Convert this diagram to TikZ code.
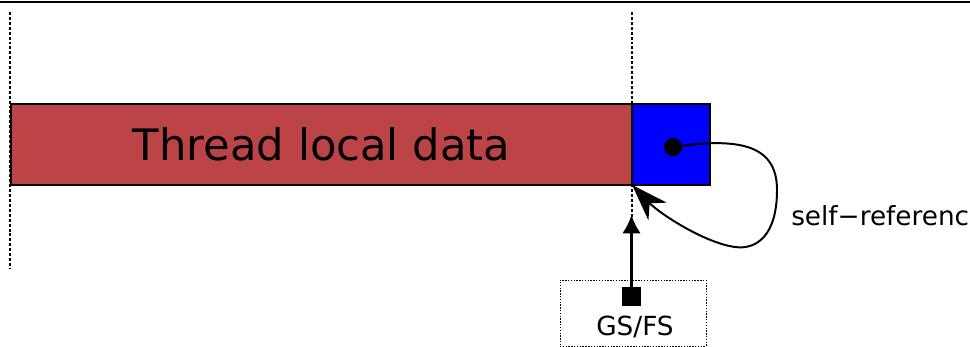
\documentclass[tikz,border=0pt]{standalone}
\usepackage{fontspec}
\setmainfont{DejaVu Sans}
\usetikzlibrary{arrows.meta, positioning}

\definecolor{tlsred}{HTML}{BC4446}

\begin{document}
\begin{tikzpicture}[
  x=0.025cm, y=-0.025cm,
  block/.style={draw, line width=1.8pt, inner sep=0pt, outer sep=0pt, minimum height=2.025cm},
  guide/.style={line width=1.2pt, dash pattern=on 2.1pt off 1.4pt},
  regbox/.style={draw, line width=0.5pt, dash pattern=on 1pt off 1pt, minimum width=3.65cm, minimum height=1.65cm, inner sep=0pt},
  selfref/.style={line width=1.4pt, -{Stealth[length=26pt, width=18pt, inset=8pt]}},
  lbl/.style={font=\fontsize{18.7}{22}\selectfont}
]
\useasboundingbox (0,0) rectangle (970,347);

% frame edge along the top
\draw[line width=1.6pt] (0,2) -- (970,2);

% segment bounds
\coordinate (lefttop) at (10,12);
\coordinate (leftbot) at (10,268);
\coordinate (tcbtop) at (632,12);
\coordinate (tcbbot) at (632,267);
\draw[guide] (lefttop) -- (leftbot);
\draw[guide] (tcbtop) -- (tcbbot);

% TLS block and thread control block
\node[block, fill=tlsred, minimum width=15.525cm, anchor=north west, font=\fontsize{30.8}{36}\selectfont] (tld) at (11,104) {Thread local data};
\node[block, fill=blue, minimum width=1.95cm, right=0pt of tld] (tcb) {};

% pointer back to itself
\node[circle, fill, inner sep=0pt, minimum size=12.8pt] (selfptr) at (673,147) {};
\draw[selfref] (selfptr.center) .. controls (745,136) and (777,148) .. (777,190)
  .. controls (777,235) and (757,250) .. (735,247)
  .. controls (705,243) and (660,214) .. (tcb.south west);
\node[lbl, inner sep=0pt, anchor=base west] (reflabel) at (791,225) {self−reference};

% segment register
\node[regbox] (segbox) at (633,313) {};
\node[fill, inner sep=0pt, minimum size=13.5pt] (gsreg) at (631.5,296.5) {};
\node[lbl] (gslabel) at (635,327) {GS/FS};
\coordinate (gstip) at (631.5,215);
\draw[line width=1.5pt, -{Latex[length=13pt, width=13pt]}] (gsreg.center) -- (gstip);
\end{tikzpicture}
\end{document}
